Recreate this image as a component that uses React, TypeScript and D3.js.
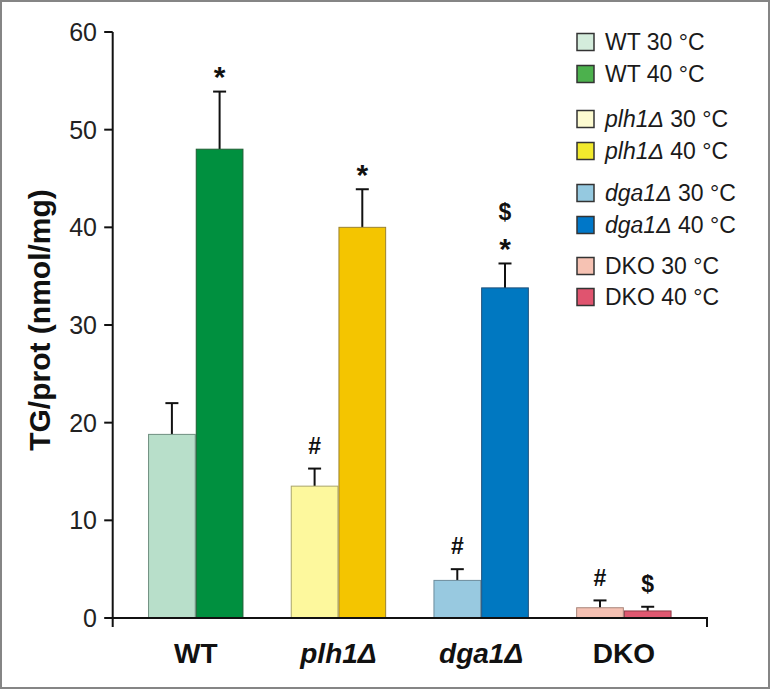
import React from "react";
import * as d3 from "d3";

const groups = ["WT", "plh1Δ", "dga1Δ", "DKO"];
const italicGroups = [false, true, true, false];
const temps = ["30 °C", "40 °C"];
const means30 = [18.8, 13.5, 3.85, 1.05];
const means40 = [48.0, 40.0, 33.8, 0.72];
const err30 = [3.2, 1.8, 1.15, 0.75];
const err40 = [5.9, 3.9, 2.5, 0.43];
const marks30 = [[], ["#"], ["#"], ["#"]];
const marks40 = [["*"], ["*"], ["*", "$"], ["$"]];
const yTicks = [0, 10, 20, 30, 40, 50, 60];

const barFill30 = ["#b8dfca", "#fdf89d", "#98c9e0", "#f5c1b3"];
const barFill40 = ["#00903f", "#f4c500", "#0078c1", "#df5870"];
const barStroke30 = ["#6f8f80", "#a9a56a", "#6c8c9c", "#a88579"];
const barStroke40 = ["#1e5e33", "#9a8230", "#1e4f7a", "#8e3a48"];
const legendFill30 = ["#d4ecdc", "#fdfbd1", "#95c9e0", "#f6c2b3"];
const legendFill40 = ["#4cb14d", "#f2ea2d", "#0077c8", "#e0546f"];

const FONT = "'Liberation Sans', Arial, Helvetica, sans-serif";

export default function App() {
  const W = 771, H = 691;
  const axisX = 112.7;
  const axisEnd = 707;
  const y = d3.scaleLinear().domain([0, 60]).range([618, 32]);
  const x = d3.scaleBand<string>().domain(groups).range([124.4, 695.2]).padding(0);
  const bw = 47.7;

  const legendRows: { label: string; italic: boolean; temp: string; fill: string; cy: number }[] = [];
  const rowY = [42, 74, 119, 151, 193, 225, 266, 297];
  groups.forEach((g, i) => {
    legendRows.push({ label: g, italic: italicGroups[i], temp: temps[0], fill: legendFill30[i], cy: rowY[i * 2] });
    legendRows.push({ label: g, italic: italicGroups[i], temp: temps[1], fill: legendFill40[i], cy: rowY[i * 2 + 1] });
  });

  const markFont = (m: string) => (m === "*" ? 30 : 23);
  const markBaseline = (capY: number, k: number, m: string) => {
    // visual center placed above the error cap
    const center = capY - 23 - k * 29;
    return m === "*" ? center + 0.62 * 30 : center + 0.36 * 23;
  };

  return (
    <svg width={W} height={H} style={{ position: "absolute", left: 0, top: 0, background: "#fff" }} fontFamily={FONT}>
      <rect x={1} y={1} width={768} height={687} fill="#fff" stroke="#858585" strokeWidth={2} />

      {/* bars */}
      {groups.map((g, i) => {
        const cx = (x(g) as number) + x.bandwidth() / 2;
        const items = [
          { m: means30[i], e: err30[i], fill: barFill30[i], stroke: barStroke30[i], x0: cx - bw, marks: marks30[i] },
          { m: means40[i], e: err40[i], fill: barFill40[i], stroke: barStroke40[i], x0: cx, marks: marks40[i] },
        ];
        return (
          <g key={g}>
            {items.map((it, j) => {
              const top = y(it.m);
              const cap = y(it.m + it.e);
              const mx = it.x0 + bw / 2;
              return (
                <g key={j}>
                  <line x1={mx} x2={mx} y1={top} y2={cap} stroke="#111" strokeWidth={2} />
                  <line x1={mx - 6.5} x2={mx + 6.5} y1={cap} y2={cap} stroke="#111" strokeWidth={2} />
                  <rect x={it.x0 + 0.5} y={top} width={bw - 1} height={y(0) - top} fill={it.fill} stroke={it.stroke} strokeWidth={1} />
                  {it.marks.map((m, k) => (
                    <text key={k} x={mx} y={markBaseline(cap, k, m)} textAnchor="middle" fontSize={markFont(m)} fontWeight="bold" fill="#111">
                      {m}
                    </text>
                  ))}
                </g>
              );
            })}
            <text x={cx} y={663} textAnchor="middle" fontSize={28} fontWeight="bold" fontStyle={italicGroups[i] ? "italic" : "normal"} fill="#111">
              {g}
            </text>
          </g>
        );
      })}

      {/* y axis */}
      <line x1={axisX} x2={axisX} y1={y(60)} y2={627} stroke="#111" strokeWidth={2} />
      {yTicks.map((t) => (
        <g key={t}>
          <line x1={axisX - 8.5} x2={axisX} y1={y(t)} y2={y(t)} stroke="#111" strokeWidth={2} />
          <text x={97} y={y(t)} dy="0.36em" textAnchor="end" fontSize={25} fill="#222">
            {t}
          </text>
        </g>
      ))}
      {/* x axis */}
      <path d={`M${axisX},${y(0)}H${axisEnd}V${y(0) + 9}`} fill="none" stroke="#111" strokeWidth={2} />

      <text transform={`translate(50,320) rotate(-90)`} textAnchor="middle" fontSize={30} fontWeight="bold" fill="#111">
        TG/prot (nmol/mg)
      </text>

      {/* legend */}
      {legendRows.map((r, i) => (
        <g key={i}>
          <rect x={577} y={r.cy - 8.5} width={17} height={17} fill={r.fill} stroke="#333" strokeWidth={1.5} />
          <text x={605} y={r.cy} dy="0.36em" fontSize={23} fill="#1a1a1a">
            <tspan fontStyle={r.italic ? "italic" : "normal"}>{r.label}</tspan>
            <tspan> {r.temp}</tspan>
          </text>
        </g>
      ))}
    </svg>
  );
}
